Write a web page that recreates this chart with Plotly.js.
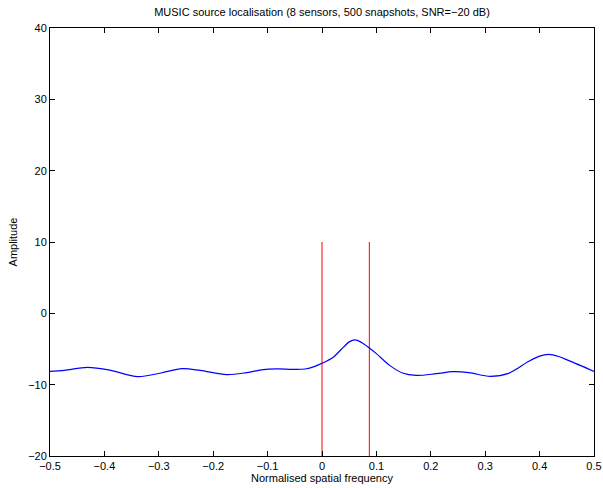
<!DOCTYPE html>
<html>
<head>
<meta charset="utf-8">
<script src="https://cdn.plot.ly/plotly-3.0.1.min.js"></script>
<style>
  html, body { margin: 0; padding: 0; background: #fff; }
  #chart { width: 603px; height: 488px; }
</style>
</head>
<body>
<div id="chart"></div>
<script>
// MUSIC pseudospectrum (dB) over normalised spatial frequency
const freq = [-0.5, -0.474, -0.431, -0.388, -0.339, -0.296, -0.257, -0.224, -0.175, -0.138,
              -0.108, -0.083, -0.053, -0.031, -0.013, 0.0, 0.02, 0.04, 0.05, 0.061,
              0.072, 0.087, 0.1, 0.125, 0.148, 0.173, 0.21, 0.24, 0.27, 0.309,
              0.343, 0.38, 0.4, 0.417, 0.435, 0.454, 0.5];
const spectrum = [-8.13, -8.0, -7.57, -8.0, -8.88, -8.36, -7.76, -8.0, -8.6, -8.3,
                  -7.88, -7.8, -7.85, -7.8, -7.43, -7.0, -6.2, -4.7, -4.0, -3.72,
                  -4.05, -4.86, -5.65, -7.33, -8.36, -8.7, -8.46, -8.18, -8.3, -8.83,
                  -8.41, -6.73, -6.0, -5.76, -6.05, -6.63, -8.13];

// True source frequencies, marked as vertical stems
const sourceFreqs = [0, 0.087];
const stemBottom = -20;
const stemTop = 10;

const xTicks = [-0.5, -0.4, -0.3, -0.2, -0.1, 0, 0.1, 0.2, 0.3, 0.4, 0.5];
const yTicks = [-20, -10, 0, 10, 20, 30, 40];

const traces = sourceFreqs.map(f => ({
  x: [f, f],
  y: [stemBottom, stemTop],
  mode: 'lines',
  line: { color: 'rgb(255,0,0)', width: 1 },
  hoverinfo: 'skip',
  showlegend: false
}));

traces.push({
  x: freq,
  y: spectrum,
  mode: 'lines',
  line: { color: 'rgb(0,0,255)', width: 1.2, shape: 'spline', smoothing: 0.9 },
  showlegend: false
});

const font = { family: '"Liberation Sans", Arial, Helvetica, sans-serif', size: 11, color: '#000' };

const axisCommon = {
  showgrid: false,
  zeroline: false,
  showline: true,
  linecolor: '#000',
  linewidth: 1,
  mirror: 'ticks',
  ticks: 'inside',
  ticklen: 5,
  tickcolor: '#000',
  tickfont: font
};

const layout = {
  width: 603,
  height: 488,
  margin: { l: 50, r: 9, t: 28, b: 32 },
  paper_bgcolor: '#fff',
  plot_bgcolor: '#fff',
  font: font,
  title: {
    text: 'MUSIC source localisation (8 sensors, 500 snapshots, SNR=\u221220 dB)',
    font: font,
    xref: 'paper', x: 0.5, xanchor: 'center',
    yref: 'container', y: 0.976, yanchor: 'middle'
  },
  xaxis: Object.assign({}, axisCommon, {
    range: [-0.5, 0.5],
    tickvals: xTicks,
    ticktext: xTicks.map(v => v === 0 ? '0' : (v < 0 ? '\u2212' : '') + Math.abs(v).toFixed(1)),
    title: { text: 'Normalised spatial frequency', font: font, standoff: 2 }
  }),
  yaxis: Object.assign({}, axisCommon, {
    range: [-20, 40],
    tickvals: yTicks,
    ticktext: yTicks.map(v => (v < 0 ? '\u2212' : '') + Math.abs(v)),
    title: { text: 'Amplitude', font: font, standoff: 8 }
  })
};

Plotly.newPlot('chart', traces, layout, { displayModeBar: false, staticPlot: true });
</script>
</body>
</html>
